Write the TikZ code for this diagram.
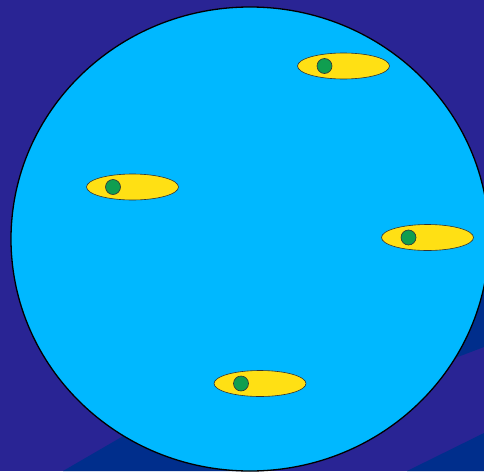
\documentclass[tikz,border=0pt]{standalone}
\usetikzlibrary{shapes.geometric}
\definecolor{bgpurple}{RGB}{41,36,148}
\definecolor{bandblue}{RGB}{0,46,140}
\definecolor{cellcyan}{RGB}{0,184,255}
\definecolor{granyellow}{RGB}{255,224,20}
\definecolor{dotgreen}{RGB}{16,158,80}
\tikzset{
  cellbody/.style={ellipse, draw=black, line width=1.3pt, fill=cellcyan, minimum width=478pt, minimum height=464pt, inner sep=0pt},
  granule/.style={ellipse, draw=black!80, line width=0.6pt, fill=granyellow, minimum width=92pt, minimum height=26pt, inner sep=0pt},
  nucleus/.style={circle, draw=black!80, line width=0.6pt, fill=dotgreen, minimum size=15pt, inner sep=0pt},
  band/.style={fill=bandblue}
}
\begin{document}
\begin{tikzpicture}[x=1pt,y=-1pt]
\fill[bgpurple] (0,0) rectangle (484,471);
\useasboundingbox (0,0) rectangle (484,471);
% darker diagonal bands
\fill[band] (63,471) -- (200,391.5) -- (262,471) -- cycle;
\fill[band] (407,471) -- (484,433) -- (484,471) -- cycle;
\fill[band] (455,358) -- (484,347) -- (484,250) -- (440,300) -- cycle;
% cell
\node[cellbody] (cell) at (250,239) {};
% granules
\node[granule] (g1) at (343.5,66) {};
\node[nucleus] (n1) at (324.5,66) {};
\node[granule] (g2) at (132.5,187) {};
\node[nucleus] (n2) at (113,187) {};
\node[granule] (g3) at (427.5,237.5) {};
\node[nucleus] (n3) at (408.5,237.5) {};
\node[granule] (g4) at (260,383.5) {};
\node[nucleus] (n4) at (241,383.5) {};
\end{tikzpicture}
\end{document}
